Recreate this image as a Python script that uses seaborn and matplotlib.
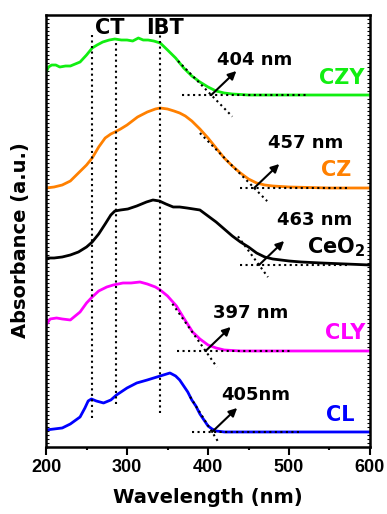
import numpy as np
import pandas as pd
import matplotlib
matplotlib.use("Agg")
import matplotlib.pyplot as plt
from matplotlib.ticker import MultipleLocator
import seaborn as sns

# ---- spectra (wavelength in nm, absorbance in arbitrary, offset units) ----
wl_czy = [200, 203, 207, 212, 217, 224, 230, 236, 242, 250, 257, 263, 270, 278, 285,
          293, 300, 307, 314, 320, 326, 333, 341, 350, 360, 370, 380, 390, 400, 410,
          420, 430, 450, 500, 550, 600]
abs_czy = [375, 380, 382, 382, 380, 381, 381, 383, 385, 392, 399, 402, 405, 407, 408,
           407, 407, 406, 409, 407, 407, 406, 404, 397, 389, 379, 371, 365, 360, 356,
           354, 353, 352, 352, 352, 352]

wl_cz = [200, 210, 220, 230, 240, 250, 257, 265, 273, 280, 285, 292, 300, 313, 325, 335,
         341, 350, 358, 365, 372, 380, 390, 400, 410, 420, 430, 440, 450, 460, 470, 480,
         500, 550, 600]
abs_cz = [259, 260, 262, 266, 274, 282, 289, 300, 309, 313, 315, 318, 322, 330, 335, 338,
          339, 338, 336, 334, 331, 326, 318, 309, 299, 289, 281, 274, 268, 264, 262, 261,
          260, 259, 259]

wl_ceo2 = [200, 210, 220, 230, 240, 250, 257, 265, 273, 280, 285, 292, 301, 312, 324, 332,
           340, 348, 357, 365, 374, 382, 390, 400, 410, 420, 430, 440, 450, 460, 470, 480,
           490, 500, 515, 540, 570, 600]
abs_ceo2 = [189, 189, 190, 192, 195, 200, 205, 213, 223, 232, 236, 237, 238, 241, 245, 247,
            246, 243, 240, 240, 239, 238, 237, 231, 225, 218, 211, 205, 200, 194, 190, 188,
            187, 186, 185, 184, 183, 182]

wl_cly = [200, 205, 213, 220, 230, 242, 250, 257, 265, 275, 283, 295, 305, 316, 325, 335,
          341, 350, 361, 370, 381, 390, 400, 410, 420, 440, 500, 600]
abs_cly = [122, 128, 129, 128, 127, 135, 144, 150, 156, 160, 162, 164, 164, 165, 163, 160,
           157, 151, 141, 129, 115, 108, 102, 99, 97, 96, 96, 96]

wl_cl = [200, 210, 220, 230, 242, 248, 252, 256, 262, 271, 280, 287, 300, 312, 325, 337,
         345, 353, 360, 365, 370, 375, 380, 385, 390, 395, 400, 405, 410, 420, 440, 600]
abs_cl = [17, 18, 19, 23, 30, 39, 46, 48, 46, 44, 47, 52, 59, 64, 67, 70,
          72, 74, 71, 67, 61, 55, 47, 41, 33, 27, 21, 18, 16, 15, 15, 15]

samples = ["CZY", "CZ", "CeO$_2$", "CLY", "CL"]
colors = ["#11ee11", "#ff8000", "#000000", "#ff00ff", "#0000ff"]

# absorption edges (nm) from the tangent construction, and the flat baseline of each curve
edge_nm = [404, 457, 463, 397, 405]
edge_labels = ["404 nm", "457 nm", "463 nm", "397 nm", "405nm"]
baseline = [352, 259, 182, 96, 15]
tangent_slope = [-0.83, -0.82, -1.10, -1.15, -1.30]        # absorbance units per nm
tangent_span = [(363, 430), (390, 473), (437, 474), (356, 411), (378, 412)]
baseline_span = [(368, 522), (440, 572), (440, 575), (362, 501), (380, 514)]

# charge-transfer / interband transition markers
ct_nm = [257, 286]
ct_extent = [(29, 412), (43, 407)]
ibt_nm = [341]
ibt_extent = [(34, 414)]

# ---- assemble the long-form table ----
frames = []
for name, wl, ab in zip(samples,
                        [wl_czy, wl_cz, wl_ceo2, wl_cly, wl_cl],
                        [abs_czy, abs_cz, abs_ceo2, abs_cly, abs_cl]):
    frames.append(pd.DataFrame({"Wavelength": wl, "Absorbance": ab, "Sample": name}))
df = pd.concat(frames, ignore_index=True)

sns.set_style("ticks")
plt.rcParams["font.family"] = ["DejaVu Sans"]
plt.rcParams["font.weight"] = "bold"
plt.rcParams["text.color"] = "black"
plt.rcParams["axes.labelcolor"] = "black"
plt.rcParams["axes.edgecolor"] = "black"
plt.rcParams["xtick.color"] = "black"
plt.rcParams["ytick.color"] = "black"

fig = plt.figure(figsize=(3.87, 5.14), dpi=100)
ax = fig.add_axes([0.119, 0.1304, 0.837, 0.8404])

sns.lineplot(data=df, x="Wavelength", y="Absorbance", hue="Sample",
             palette=dict(zip(samples, colors)), estimator=None, sort=False,
             legend=False, linewidth=2.0, ax=ax)

dot = dict(color="black", linestyle=":", linewidth=1.5)

# vertical transition markers
for x, (y0, y1) in zip(ct_nm + ibt_nm, ct_extent + ibt_extent):
    ax.plot([x, x], [y0, y1], **dot)
ax.text(279, 419, "CT", ha="center", va="center", fontsize=15, fontweight="bold")
ax.text(347, 419, "IBT", ha="center", va="center", fontsize=15, fontweight="bold")

# tangent construction, edge arrows and labels
label_pos = [(458, 387), (520, 304), (532, 227), (453, 134), (459, 52)]
name_pos = [(593, 369), (577, 277), (594, 200), (594, 114), (581, 32)]
for i in range(len(samples)):
    e, b, s = edge_nm[i], baseline[i], tangent_slope[i]
    t0, t1 = tangent_span[i]
    ax.plot([t0, t1], [b + s * (t0 - e), b + s * (t1 - e)], **dot)
    ax.plot(list(baseline_span[i]), [b, b], **dot)
    ax.annotate("", xy=(e + 31, b + 24), xytext=(e, b),
                arrowprops=dict(arrowstyle="-|>", color="black", lw=1.5,
                                mutation_scale=12, shrinkA=0, shrinkB=0))
    ax.text(*label_pos[i], edge_labels[i], ha="center", va="center",
            fontsize=13, fontweight="bold")
    ax.text(*name_pos[i], samples[i], ha="right", va="center", fontsize=15,
            fontweight="bold", color=colors[i])

ax.set_xlim(200, 600)
ax.set_ylim(0, 432)
ax.xaxis.set_major_locator(MultipleLocator(100))
ax.xaxis.set_minor_locator(MultipleLocator(50))
ax.yaxis.set_major_locator(MultipleLocator(4))
ax.tick_params(axis="x", which="major", direction="out", length=5.5, width=1.5,
               labelsize=13, pad=3)
ax.tick_params(axis="x", which="minor", direction="out", length=2.5, width=1.5)
ax.tick_params(axis="y", which="major", direction="in", length=2, width=0.8,
               left=True, right=True, labelleft=False)
for lab in ax.get_xticklabels():
    lab.set_fontfamily("Liberation Sans")
    lab.set_fontweight("bold")

for sp in ax.spines.values():
    sp.set_visible(True)
    sp.set_linewidth(1.8)
    sp.set_color("black")

ax.set_xlabel("Wavelength (nm)", fontsize=14, fontweight="bold", va="center")
ax.xaxis.set_label_coords(0.5, -0.116)
ax.set_ylabel("Absorbance (a.u.)", fontsize=14, fontweight="bold", va="center")
ax.yaxis.set_label_coords(-0.080, 0.479)

fig.savefig("out.png", dpi=100)
